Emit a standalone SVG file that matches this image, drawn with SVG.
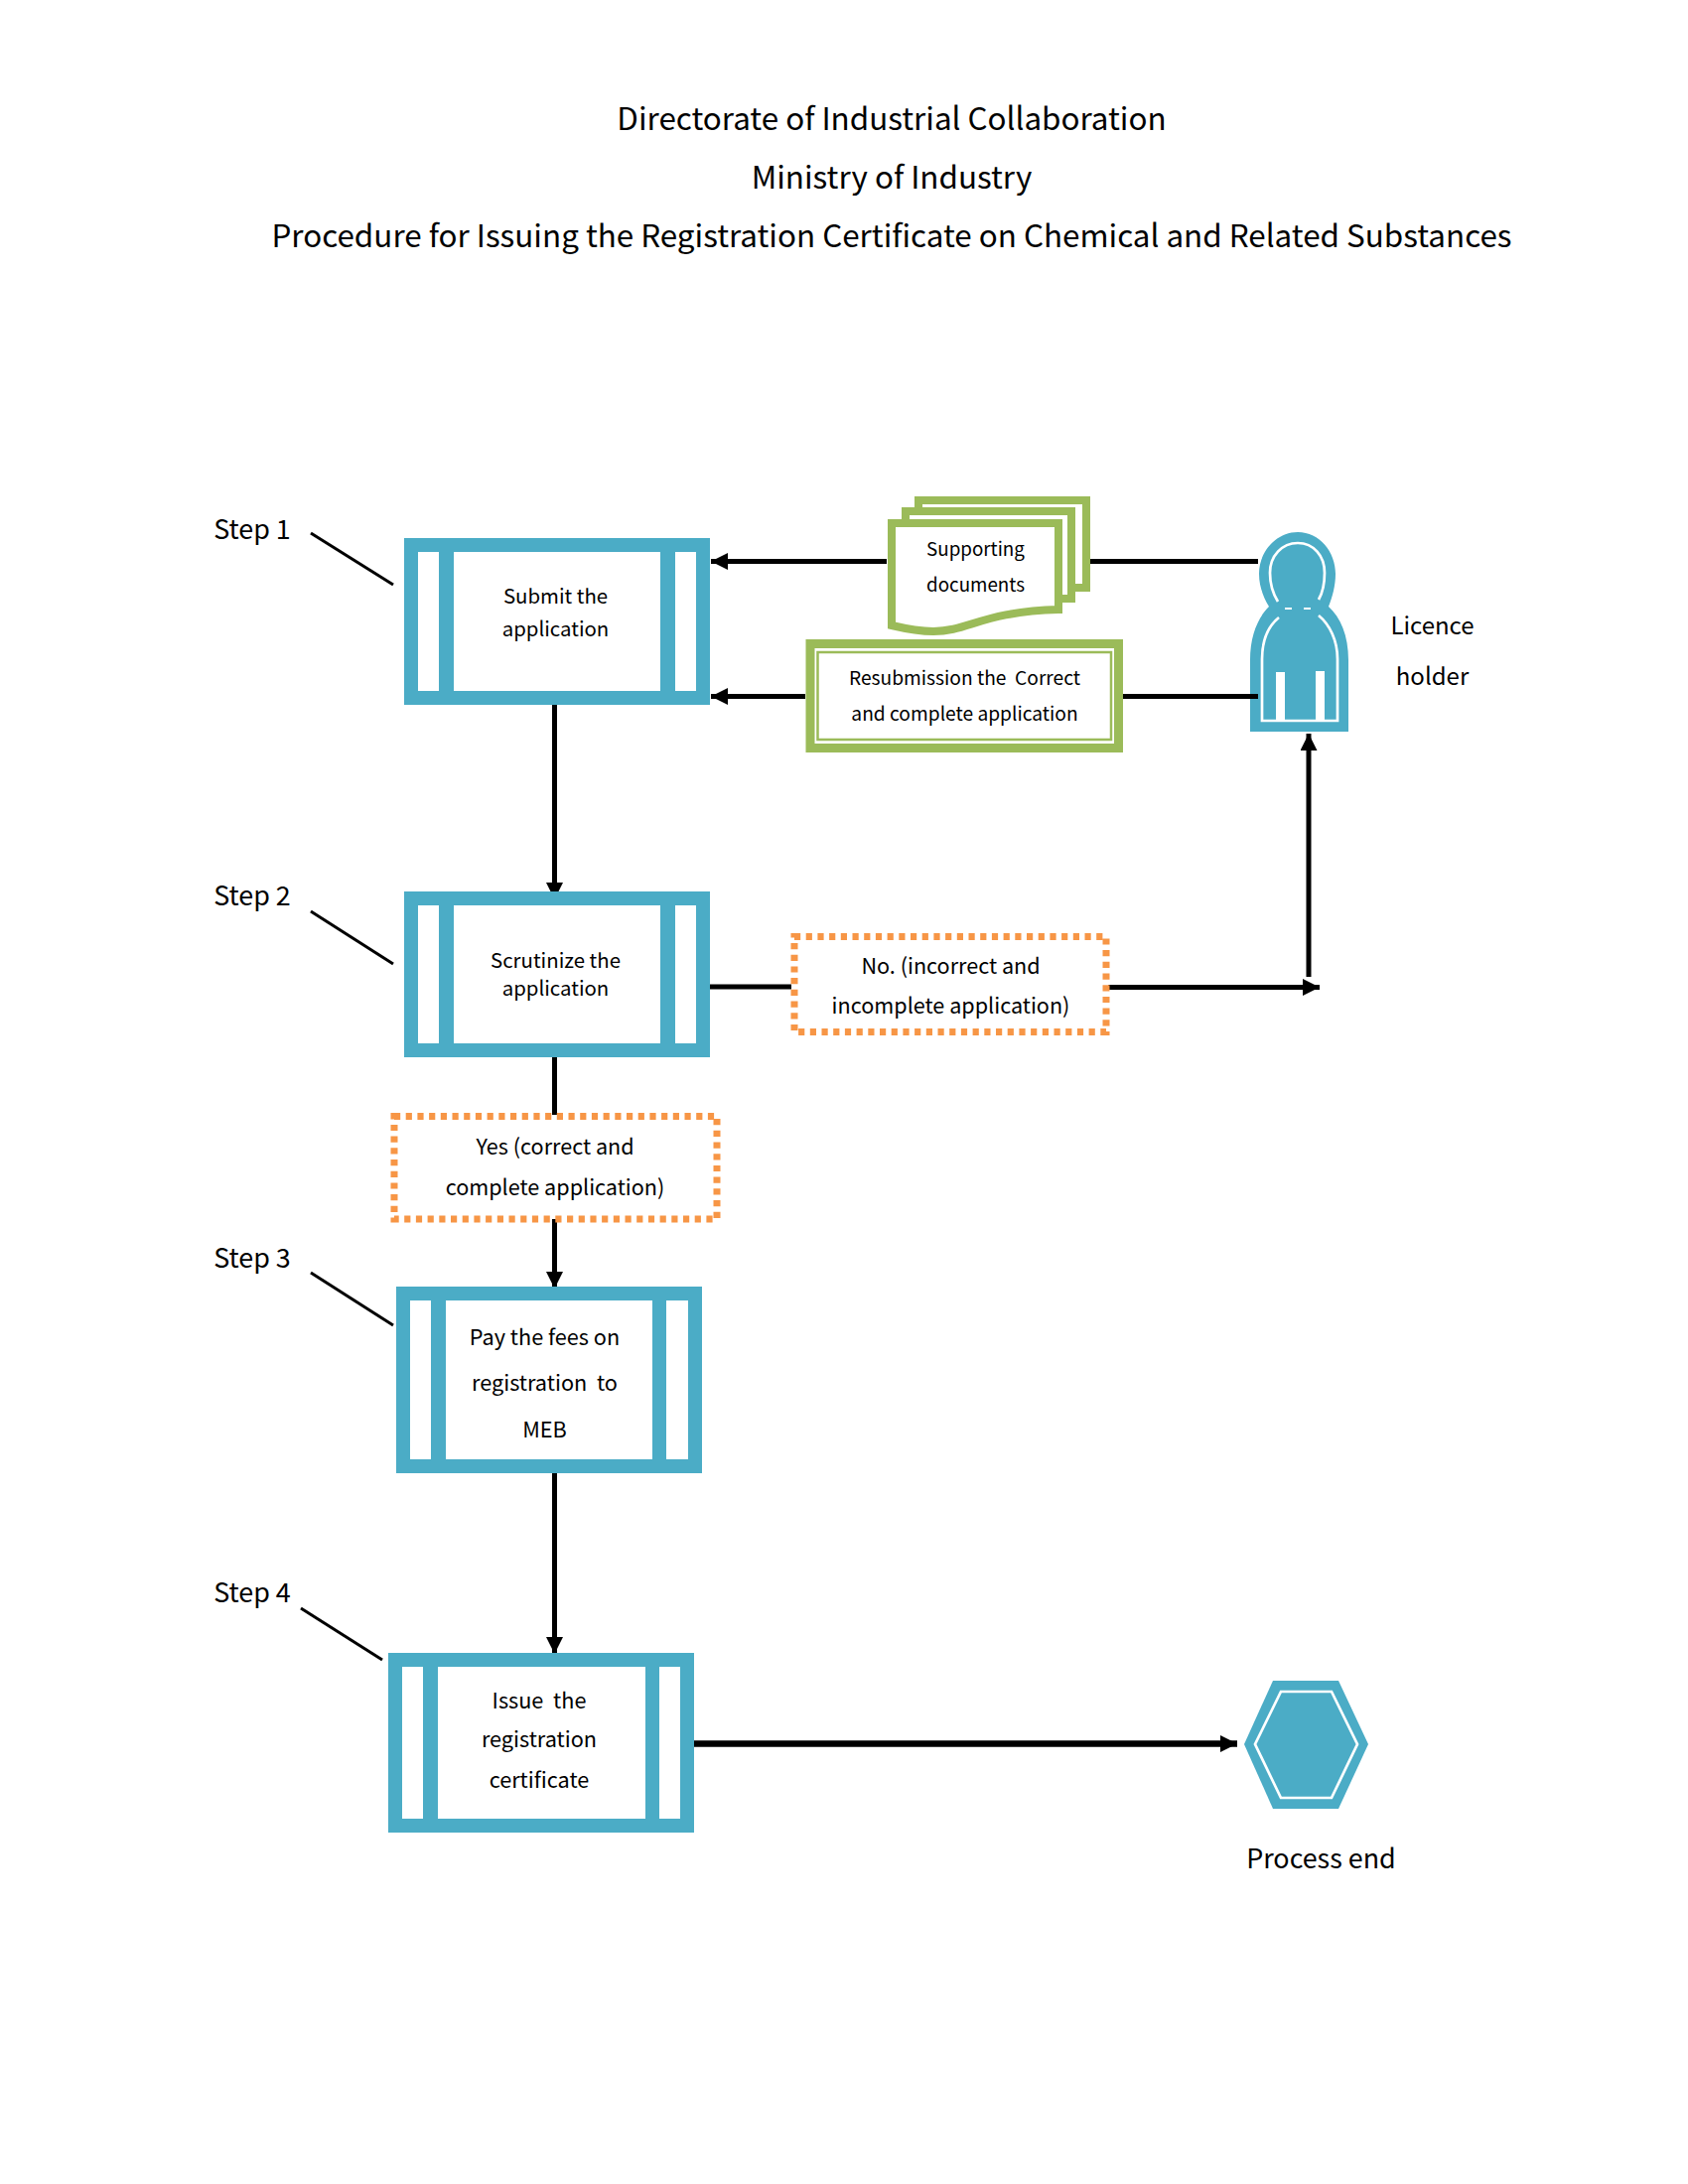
<svg xmlns="http://www.w3.org/2000/svg" width="1700" height="2200" viewBox="0 0 1700 2200">
<style>
text{font-family:"Noto Sans CJK SC","Noto Sans",sans-serif;fill:#000;text-anchor:middle;white-space:pre}
.t{font-size:31.4px}.s{font-size:26.9px}.b{font-size:20.4px}.m{font-size:21.6px}.d{font-size:18.8px}.r{font-size:19.2px}.p3{font-size:21.7px}.l{font-size:24px}
.blue{fill:#4bacc6}.wf{fill:#fff}.wl{fill:none;stroke:#fff;stroke-width:2.7}
.g{fill:#fff;stroke:#9bbb59;stroke-width:8}
.dot{fill:#fff;stroke:#f79646;stroke-width:7;stroke-dasharray:6.2 5.5}
.c{stroke:#000;stroke-width:5;fill:none}
.k{stroke-width:6.5}
.p{stroke:#000;stroke-width:3;fill:none}
</style>
<defs>
<marker id="a" markerUnits="userSpaceOnUse" markerWidth="19" markerHeight="19" refX="17" refY="8.5" orient="auto"><path d="M0 0L17 8.500L0 17Z"/></marker>
</defs>
<g id="title">
<text class="t" x="898" y="131">Directorate of Industrial Collaboration</text>
<text class="t" x="898" y="190">Ministry of Industry</text>
<text class="t" x="898" y="248.500">Procedure for Issuing the Registration Certificate on Chemical and Related Substances</text>
</g>
<g id="person" transform="translate(1 0)">
<path class="blue" d="M1306 536C1328 536 1344 556 1344 578C1344 590 1341 601 1337 611C1349 622 1357 640 1357 665V737H1258V665C1258 640 1266 622 1277 611C1271 601 1267 590 1267 578C1267 556 1284 536 1306 536Z"/>
<path class="wl" d="M1286 606C1281 598 1278 588 1278 577C1278 560 1290 547 1306 547C1322 547 1333 560 1333 577C1333 588 1331 597 1327 604"/>
<path class="wl" d="M1287 622C1276 631 1270 645 1270 664V726H1346V664C1346 645 1338 629 1327 620"/>
<path class="wf" d="M1284 677H1293V725H1284ZM1324 676H1333V725H1324ZM1293 612H1300V614H1293ZM1312 612H1319V614H1312Z"/>
</g>
<g id="connectors">
<path class="c" marker-end="url(#a)" d="M893 565.500H716"/>
<path class="c" marker-end="url(#a)" d="M811 701.500H716"/>
<path class="c" d="M1097 565.500H1267M1130 701.500H1267"/>
<path class="c" marker-end="url(#a)" d="M558.500 710V906"/>
<path class="c" d="M714 994H797M558.500 1065V1123"/>
<path class="c" marker-end="url(#a)" d="M1116 994.500H1329"/>
<path class="c" marker-end="url(#a)" d="M1318 984V739"/>
<path class="c" marker-end="url(#a)" d="M558.500 1228V1298"/>
<path class="c" marker-end="url(#a)" d="M558.500 1484V1666"/>
<path class="c k" marker-end="url(#a)" d="M698 1756.500H1246"/>
<path class="p" d="M313 537L396 589"/>
<path class="p" d="M313 918L396 971"/>
<path class="p" d="M313 1282L396 1335"/>
<path class="p" d="M303 1620L385 1672"/>
</g>
<g id="step1"><text class="s" x="254" y="543">Step 1</text></g>
<g id="step2"><text class="s" x="254" y="912">Step 2</text></g>
<g id="step3"><text class="s" x="254" y="1277">Step 3</text></g>
<g id="step4"><text class="s" x="254" y="1614">Step 4</text></g>
<g id="submit">
<path class="blue" fill-rule="evenodd" d="M407 542H715V710H407ZM421 556V696H442V556ZM457 556V696H665V556ZM680 556V696H701V556Z"/>
<text class="b" x="559.500" y="608">Submit the</text><text class="b" x="559.500" y="641">application</text>
</g>
<g id="scrutinize">
<path class="blue" fill-rule="evenodd" d="M407 898H715V1065H407ZM421 912V1051H442V912ZM457 912V1051H665V912ZM680 912V1051H701V912Z"/>
<text class="b" x="559.500" y="975">Scrutinize the</text><text class="b" x="559.500" y="1003">application</text>
</g>
<g id="pay">
<path class="blue" fill-rule="evenodd" d="M399 1296H707V1484H399ZM413 1310V1470H434V1310ZM449 1310V1470H657V1310ZM671 1310V1470H693V1310Z"/>
<text class="p3" x="548.500" y="1355">Pay the fees on</text><text class="p3" x="548.500" y="1401">registration  to</text><text class="p3" x="548.500" y="1448">MEB</text>
</g>
<g id="issue">
<path class="blue" fill-rule="evenodd" d="M391 1665H699V1846H391ZM405 1679V1832H426V1679ZM441 1679V1832H650V1679ZM664 1679V1832H685V1679Z"/>
<text class="p3" x="543" y="1721">Issue  the</text><text class="p3" x="543" y="1760">registration</text><text class="p3" x="543" y="1801">certificate</text>
</g>
<g id="documents">
<rect class="g" x="925" y="504" width="169" height="88"/>
<rect class="g" x="912" y="515" width="167" height="88"/>
<path class="g" d="M898 527H1066V614C990 616 975 636 940 636C925 636 915 634 898 630Z"/>
<text class="d" x="982.500" y="560">Supporting</text><text class="d" x="982.500" y="596">documents</text>
</g>
<g id="resubmission">
<rect x="811.500" y="644" width="319.500" height="114" fill="#9bbb59"/>
<rect x="820.500" y="653" width="301.500" height="96" fill="#fff"/>
<rect x="823.500" y="657" width="295.500" height="88" fill="#fff" stroke="#9bbb59" stroke-width="2.500"/>
<text class="r" x="971.500" y="690">Resubmission the  Correct</text><text class="r" x="971.500" y="726">and complete application</text>
</g>
<g id="no">
<rect class="dot" x="800" y="943.500" width="314" height="96"/>
<text class="m" x="957.500" y="981">No. (incorrect and</text><text class="m" x="957.500" y="1021">incomplete application)</text>
</g>
<g id="yes">
<rect class="dot" x="397" y="1124.500" width="325" height="103.500"/>
<text class="m" x="559" y="1163">Yes (correct and</text><text class="m" x="559" y="1204">complete application)</text>
</g>
<g id="licence"><text class="l" x="1442.500" y="639">Licence</text><text class="l" x="1442.500" y="690">holder</text></g>
<g id="end">
<path class="blue" d="M1282 1693H1348L1378 1757L1348 1822H1282L1253 1757Z"/>
<path class="wl" d="M1290 1704H1341L1367 1757L1341 1811H1290L1264 1757Z"/>
<text class="s" x="1330.500" y="1882">Process end</text>
</g>
</svg>
